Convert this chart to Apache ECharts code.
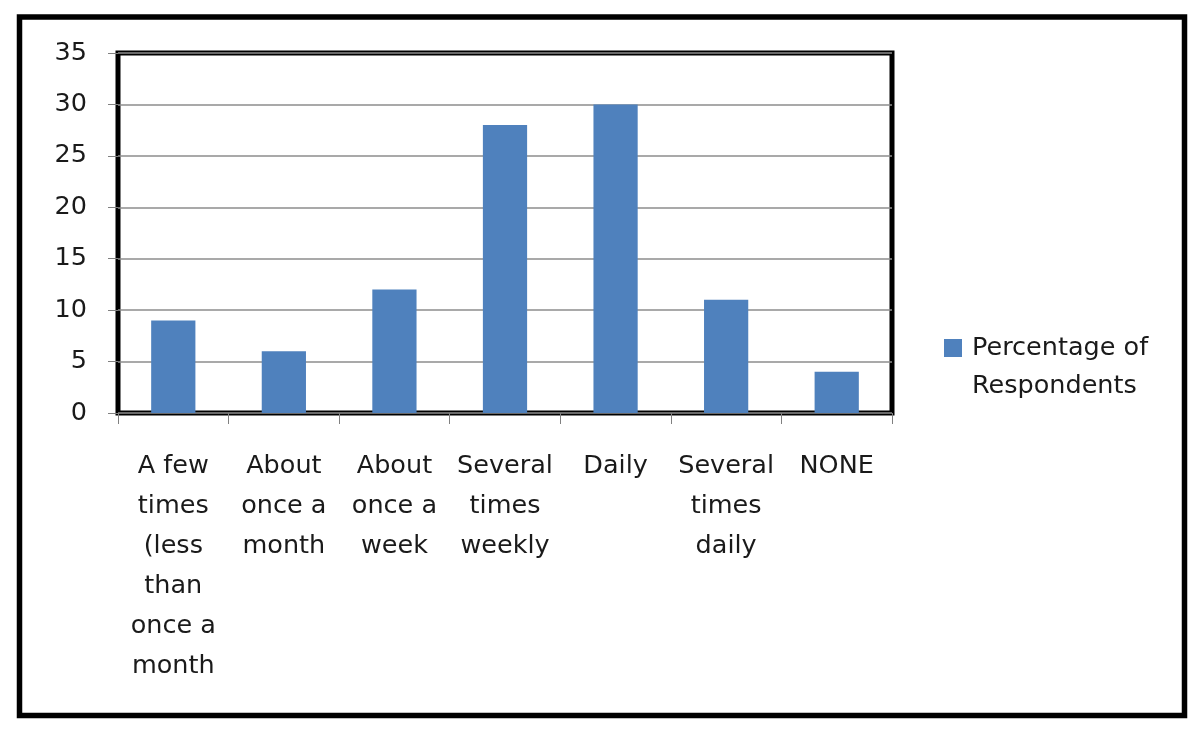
<!DOCTYPE html>
<html>
<head>
<meta charset="utf-8">
<script src="https://cdn.jsdelivr.net/npm/echarts@6/dist/echarts.min.js"></script>
<style>
html,body{margin:0;padding:0;background:#fff;}
#chart{width:1200px;height:731px;}
</style>
</head>
<body>
<div id="chart"></div>
<script>
const categories = [
  "A few\ntimes\n(less\nthan\nonce a\nmonth",
  "About\nonce a\nmonth",
  "About\nonce a\nweek",
  "Several\ntimes\nweekly",
  "Daily",
  "Several\ntimes\ndaily",
  "NONE"
];
const seriesName = "Percentage of Respondents";
const legendLines = ["Percentage of", "Respondents"];
const values = [9, 6, 12, 28, 30, 11, 4];
const yTicks = { min: 0, max: 35, interval: 5 };

const FONT = "DejaVu Sans";
const FS = 25.5;
const TXT = '#1a1a1a';
const chart = echarts.init(document.getElementById('chart'), null, { renderer: 'canvas' });
chart.setOption({
  animation: false,
  backgroundColor: '#fff',
  textStyle: { fontFamily: FONT },
  grid: {
    left: 118, right: 308, top: 53, bottom: 318,
    show: true, borderColor: '#000', borderWidth: 5, backgroundColor: 'transparent'
  },
  graphic: [{
    type: 'rect',
    shape: { x: 19.5, y: 17, width: 1165, height: 698.5 },
    style: { fill: 'none', stroke: '#000', lineWidth: 5.5 },
    z: 100
  }],
  legend: {
    show: true,
    left: 944, top: 291, padding: 0,
    itemWidth: 18, itemHeight: 18, itemGap: 0,
    icon: 'rect',
    formatter: function () {
      return '\n' + legendLines.map(function (s) { return '{g|}{t|' + s + '}'; }).join('\n');
    },
    textStyle: {
      fontFamily: FONT, fontSize: FS, color: TXT, lineHeight: 38,
      rich: {
        t: { fontFamily: FONT, fontSize: FS, color: TXT, lineHeight: 38 },
        g: { width: 5, lineHeight: 38 }
      }
    },
    data: [seriesName]
  },
  xAxis: {
    type: 'category',
    data: categories,
    axisLine: { show: false },
    axisTick: { show: true, alignWithLabel: false, length: 11, lineStyle: { color: '#808080', width: 1 } },
    axisLabel: { interval: 0, margin: 33, fontFamily: FONT, fontSize: FS, color: TXT, lineHeight: 40, align: 'center', verticalAlign: 'top' },
    splitLine: { show: false }
  },
  yAxis: {
    type: 'value',
    min: yTicks.min, max: yTicks.max, interval: yTicks.interval,
    axisLine: { show: false },
    axisTick: { show: true, inside: false, length: 10, lineStyle: { color: '#808080', width: 1 } },
    axisLabel: { margin: 31, fontFamily: FONT, fontSize: FS, color: TXT },
    splitLine: { show: true, lineStyle: { color: '#8c8c8c', width: 1.5 } }
  },
  series: [{
    name: seriesName,
    type: 'bar',
    data: values,
    barCategoryGap: '60%',
    itemStyle: { color: '#4F81BD' },
    z: 1
  }]
});
</script>
</body>
</html>
